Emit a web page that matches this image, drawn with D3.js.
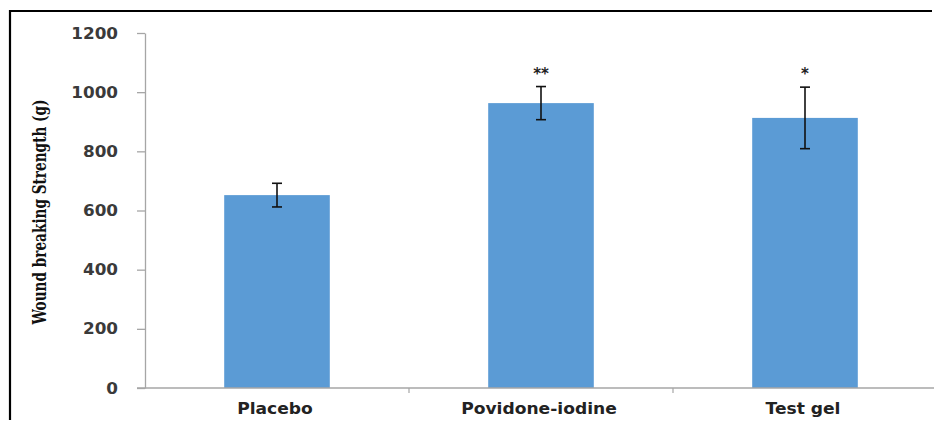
<!DOCTYPE html>
<html>
<head>
<meta charset="utf-8">
<script src="https://cdn.jsdelivr.net/npm/d3@7"></script>
<style>
  html, body { margin: 0; padding: 0; background: #fff; }
  svg { display: block; }
</style>
</head>
<body>
<svg id="chart" width="934" height="422"></svg>
<script>
// Wound breaking strength by treatment group (mean ± SD)
const categories = ["Placebo", "Povidone-iodine", "Test gel"];
const means = [652, 963, 913];
const errors = [40, 56, 104];
const significance = ["", "**", "*"];
const yTicks = [0, 200, 400, 600, 800, 1000, 1200];
const yTitle = "Wound breaking Strength (g)";

const svg = d3.select("#chart");

// Widen text horizontally, like a stretched Verdana-style face
function widen(sel, factor) {
  sel.each(function () {
    const w = this.getComputedTextLength();
    d3.select(this).attr("textLength", w * factor).attr("lengthAdjust", "spacingAndGlyphs");
  });
}

// Frame around the chart (top and left edges are visible)
svg.append("path")
  .attr("d", "M10,420 L10,11 L932,11")
  .attr("fill", "none")
  .attr("stroke", "#000")
  .attr("stroke-width", 2.2);

const plot = { left: 145, right: 937, top: 33, bottom: 388 };

const x = d3.scaleBand()
  .domain(categories)
  .range([plot.left, plot.right])
  .paddingInner(0.6)
  .paddingOuter(0.3);

const y = d3.scaleLinear()
  .domain([0, 1200])
  .range([plot.bottom, plot.top]);

const axisColor = "#a6a6a6";

// Y axis
const yAxis = svg.append("g")
  .attr("transform", `translate(${plot.left},0)`)
  .call(d3.axisLeft(y).tickValues(yTicks).tickFormat(d3.format("d"))
    .tickSize(8).tickSizeOuter(0).tickPadding(19));
yAxis.select(".domain").attr("stroke", axisColor).attr("stroke-width", 1.3);
yAxis.selectAll(".tick line").attr("stroke", axisColor).attr("stroke-width", 1.3);
yAxis.selectAll(".tick text")
  .attr("fill", "#3a3a3a")
  .style("font-family", "'DejaVu Sans', Verdana, sans-serif")
  .style("font-size", "15px")
  .style("font-weight", "bold")
  .attr("dy", "0.34em")
  .call(widen, 1.12);

// Bars
svg.append("g")
  .selectAll("rect")
  .data(categories)
  .join("rect")
  .attr("x", d => x(d))
  .attr("width", x.bandwidth())
  .attr("y", (d, i) => y(means[i]))
  .attr("height", (d, i) => y(0) - y(means[i]))
  .attr("fill", "#5b9bd5");

// X axis
const xAxisScale = d3.scaleLinear().domain([0, categories.length]).range([plot.left, plot.right]);
const xAxis = svg.append("g");
xAxis.append("line")
  .attr("x1", plot.left - 8).attr("x2", 934)
  .attr("y1", y(0)).attr("y2", y(0))
  .attr("stroke", axisColor).attr("stroke-width", 1.5);
xAxis.selectAll("line.tick")
  .data(d3.range(1, categories.length))
  .join("line")
  .attr("class", "tick")
  .attr("x1", d => xAxisScale(d)).attr("x2", d => xAxisScale(d))
  .attr("y1", y(0)).attr("y2", y(0) + 5)
  .attr("stroke", axisColor).attr("stroke-width", 1.2);
xAxis.selectAll("text")
  .data(categories)
  .join("text")
  .attr("x", d => x(d) + x.bandwidth() / 2 - 2)
  .attr("y", 414)
  .attr("text-anchor", "middle")
  .attr("fill", "#222")
  .style("font-family", "'DejaVu Sans', Verdana, sans-serif")
  .style("font-size", "15px")
  .style("font-weight", "bold")
  .text(d => d)
  .call(widen, 1.14);

// Error bars
const capHalf = 5;
const eb = svg.append("g").attr("stroke", "#111").attr("stroke-width", 1.6);
categories.forEach((c, i) => {
  const cx = x(c) + x.bandwidth() / 2;
  const hi = y(means[i] + errors[i]);
  const lo = y(means[i] - errors[i]);
  eb.append("line").attr("x1", cx).attr("x2", cx).attr("y1", hi).attr("y2", lo);
  eb.append("line").attr("x1", cx - capHalf).attr("x2", cx + capHalf).attr("y1", hi).attr("y2", hi);
  eb.append("line").attr("x1", cx - capHalf).attr("x2", cx + capHalf).attr("y1", lo).attr("y2", lo);
});

// Significance markers
svg.append("g")
  .selectAll("text")
  .data(categories)
  .join("text")
  .attr("x", d => x(d) + x.bandwidth() / 2)
  .attr("y", (d, i) => y(means[i] + errors[i]) - 8)
  .attr("text-anchor", "middle")
  .attr("fill", "#222")
  .style("font-family", "'DejaVu Sans', sans-serif")
  .style("font-size", "15px")
  .style("font-weight", "bold")
  .text((d, i) => significance[i]);

// Y axis title
svg.append("text")
  .attr("transform", "translate(46,212) rotate(-90)")
  .attr("text-anchor", "middle")
  .attr("fill", "#111")
  .style("font-family", "'DejaVu Serif Condensed', 'DejaVu Serif', serif")
  .style("font-size", "18px")
  .style("font-weight", "bold")
  .attr("textLength", 225)
  .attr("lengthAdjust", "spacingAndGlyphs")
  .text(yTitle);
</script>
</body>
</html>
